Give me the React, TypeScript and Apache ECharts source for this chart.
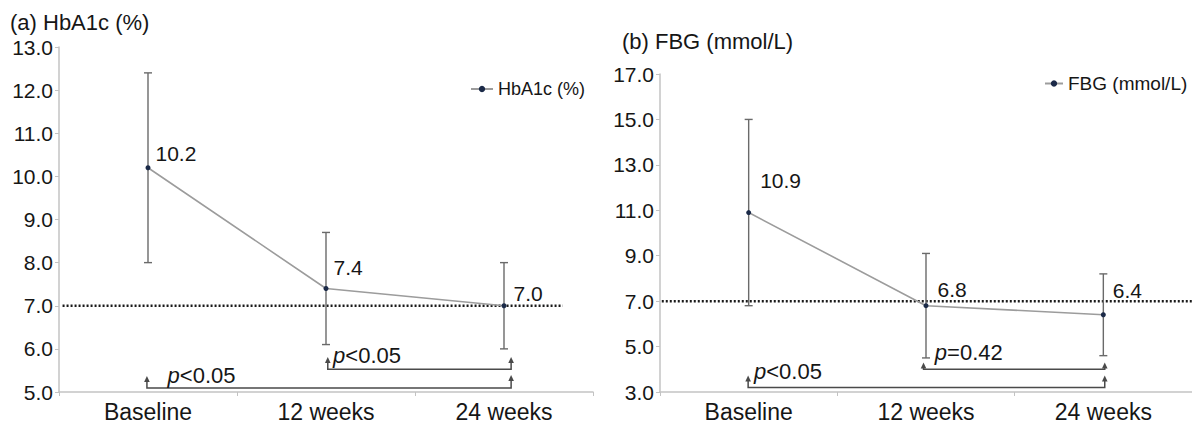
import React, { useEffect, useRef } from "react";
import * as echarts from "echarts";

// ---------- data ----------
const categories = ["Baseline", "12 weeks", "24 weeks"];
const hba1cMean = [10.2, 7.4, 7.0];
const hba1cSD = [2.2, 1.3, 1.0];
const fbgMean = [10.9, 6.8, 6.4];
const fbgSD = [4.1, 2.3, 1.8];
const referenceLevel = 7.0;
const hba1cAxis = { min: 5, max: 13, interval: 1 };
const fbgAxis = { min: 3, max: 17, interval: 2 };
const hba1cComparisons = [
  { from: 1, to: 2, label: "<0.05" },
  { from: 0, to: 2, label: "<0.05" },
];
const fbgComparisons = [
  { from: 1, to: 2, label: "=0.42" },
  { from: 0, to: 2, label: "<0.05" },
];

// ---------- layout / style ----------
const FONT = "'Liberation Sans', Arial, Helvetica, sans-serif";
const TXT = "#161616";
const hba1cLabelShift = [[0, -14], [0, -21], [2, -12]];
const fbgLabelShift = [[4, -32], [4, -16], [2, -24]];
// bracket geometry in data units: [x1, x2, yLine, yTipL, yTipR, labelX, labelY]
const hba1cBracketGeo = [
  [1.51, 2.54, 5.53, 5.79, 5.79, 1.54, 5.84],
  [0.494, 2.54, 5.09, 5.35, 5.37, 0.61, 5.38],
];
const fbgBracketGeo = [
  [1.486, 2.508, 4.0, 4.25, 4.25, 1.55, 4.72],
  [0.497, 2.508, 3.2, 3.68, 3.68, 0.53, 3.9],
];

function errorBarSeries(name: string, means: number[], sds: number[], xi: number, yi: number) {
  return {
    name,
    type: "custom",
    xAxisIndex: xi,
    yAxisIndex: yi,
    z: 2,
    silent: true,
    encode: { x: 0, y: [1, 2] },
    data: means.map((m, i) => [i, +(m - sds[i]).toFixed(2), +(m + sds[i]).toFixed(2)]),
    renderItem: (params: any, api: any) => {
      const x = api.value(0);
      const lo = api.coord([x, api.value(1)]);
      const hi = api.coord([x, api.value(2)]);
      const w = 4;
      const style = { stroke: "#6a6a6a", lineWidth: 1.4 };
      return {
        type: "group",
        children: [
          { type: "line", shape: { x1: lo[0], y1: lo[1], x2: hi[0], y2: hi[1] }, style },
          { type: "line", shape: { x1: lo[0] - w, y1: lo[1], x2: lo[0] + w, y2: lo[1] }, style },
          { type: "line", shape: { x1: hi[0] - w, y1: hi[1], x2: hi[0] + w, y2: hi[1] }, style },
        ],
      };
    },
  };
}

function refLineSeries(x0: number, x1: number, xi: number, yi: number) {
  return {
    type: "custom",
    xAxisIndex: xi,
    yAxisIndex: yi,
    z: 1,
    silent: true,
    data: [[x0, x1, referenceLevel]],
    renderItem: (params: any, api: any) => {
      const a = api.coord([api.value(0), api.value(2)]);
      const b = api.coord([api.value(1), api.value(2)]);
      return {
        type: "line",
        shape: { x1: a[0], y1: a[1], x2: b[0], y2: b[1] },
        style: { stroke: "#1a1a1a", lineWidth: 2.5, lineDash: [2, 2] },
      };
    },
  };
}

function bracketSeries(geo: number[][], comps: { label: string }[], xi: number, yi: number) {
  return {
    type: "custom",
    xAxisIndex: xi,
    yAxisIndex: yi,
    z: 3,
    silent: true,
    data: geo,
    renderItem: (params: any, api: any) => {
      const i = params.dataIndex;
      const x1 = api.value(0), x2 = api.value(1), yl = api.value(2);
      const tl = api.value(3), tr = api.value(4);
      const pL = api.coord([x1, yl]);
      const pR = api.coord([x2, yl]);
      const tL = api.coord([x1, tl]);
      const tR = api.coord([x2, tr]);
      const lab = api.coord([api.value(5), api.value(6)]);
      const stroke = "#4a4a4a";
      const arrow = (p: number[]) => ({
        type: "polygon",
        shape: { points: [[p[0], p[1] - 1], [p[0] - 2.8, p[1] + 5], [p[0] + 2.8, p[1] + 5]] },
        style: { fill: stroke },
      });
      return {
        type: "group",
        children: [
          {
            type: "polyline",
            shape: { points: [[tL[0], tL[1] + 4], pL, pR, [tR[0], tR[1] + 4]] },
            style: { stroke, lineWidth: 1.5, fill: null },
          },
          arrow(tL),
          arrow(tR),
          {
            type: "text",
            x: lab[0],
            y: lab[1],
            style: {
              text: "{i|p}" + comps[i].label,
              rich: { i: { fontStyle: "italic", fontSize: 22, fontFamily: FONT, fill: TXT } },
              fontSize: 22,
              fontFamily: FONT,
              fill: TXT,
              verticalAlign: "middle",
              align: "left",
            },
          },
        ],
      };
    },
  };
}

function meanSeries(name: string, means: number[], shifts: number[][], xi: number, yi: number) {
  return {
    name,
    type: "line",
    xAxisIndex: xi,
    yAxisIndex: yi,
    z: 4,
    symbol: "circle",
    symbolSize: 5,
    itemStyle: { color: "#1b2a48" },
    lineStyle: { color: "#9c9c9c", width: 1.6 },
    data: means.map((v, i) => ({
      value: v,
      label: { offset: shifts[i] },
    })),
    label: {
      show: true,
      position: "right",
      distance: 5,
      fontSize: 21,
      fontFamily: FONT,
      color: TXT,
      formatter: (p: any) => Number(p.value).toFixed(1),
    },
  };
}

function catAxis(gi: number) {
  return {
    type: "category",
    gridIndex: gi,
    data: categories,
    boundaryGap: true,
    axisLine: { lineStyle: { color: "#c3c3c3", width: 1.5 } },
    axisTick: { show: true, length: 4, lineStyle: { color: "#c3c3c3" } },
    axisLabel: { fontSize: 23, fontFamily: FONT, color: TXT, margin: 8 },
  };
}

function hiddenValX(gi: number) {
  return { type: "value", gridIndex: gi, min: 0, max: 3, show: false };
}

function valAxis(gi: number, ax: { min: number; max: number; interval: number }) {
  return {
    type: "value",
    gridIndex: gi,
    min: ax.min,
    max: ax.max,
    interval: ax.interval,
    splitLine: { show: false },
    axisLine: { show: true, lineStyle: { color: "#c3c3c3", width: 1.5 } },
    axisTick: { show: true, length: 4, lineStyle: { color: "#c3c3c3" } },
    axisLabel: {
      fontSize: 21,
      fontFamily: FONT,
      color: TXT,
      margin: 6,
      formatter: (v: number) => v.toFixed(1),
    },
  };
}

export default function App() {
  const ref = useRef<HTMLDivElement>(null);
  useEffect(() => {
    document.body.style.margin = "0";
    if (!ref.current) return;
    const chart = echarts.init(ref.current, undefined, { renderer: "svg" });
    chart.setOption({
      animation: false,
      backgroundColor: "#ffffff",
      title: [
        {
          text: "(a) HbA1c (%)",
          left: 10,
          top: 11,
          padding: 0,
          textStyle: { fontSize: 22, fontWeight: "normal", fontFamily: FONT, color: TXT },
        },
        {
          text: "(b) FBG (mmol/L)",
          left: 622,
          top: 30,
          padding: 0,
          textStyle: { fontSize: 22, fontWeight: "normal", fontFamily: FONT, color: TXT },
        },
      ],
      legend: [
        {
          data: ["HbA1c (%)"],
          left: 470,
          top: 80,
          padding: 0,
          itemWidth: 22,
          itemHeight: 8,
          itemGap: 6,
          textStyle: { fontSize: 18, fontFamily: FONT, color: TXT },
        },
        {
          data: ["FBG (mmol/L)"],
          left: 1044,
          top: 74,
          padding: 0,
          itemWidth: 18,
          itemHeight: 8,
          itemGap: 4,
          textStyle: { fontSize: 19, fontFamily: FONT, color: TXT },
        },
      ],
      grid: [
        { left: 59, top: 47, width: 534, height: 345 },
        { left: 660, top: 74, width: 544, height: 319 },
      ],
      xAxis: [catAxis(0), hiddenValX(0), catAxis(1), hiddenValX(1)],
      yAxis: [valAxis(0, hba1cAxis), valAxis(1, fbgAxis)],
      series: [
        refLineSeries(0.02, 2.83, 1, 0),
        errorBarSeries("HbA1c SD", hba1cMean, hba1cSD, 0, 0),
        meanSeries("HbA1c (%)", hba1cMean, hba1cLabelShift, 0, 0),
        bracketSeries(hba1cBracketGeo, hba1cComparisons, 1, 0),
        refLineSeries(0.01, 3, 3, 1),
        errorBarSeries("FBG SD", fbgMean, fbgSD, 2, 1),
        meanSeries("FBG (mmol/L)", fbgMean, fbgLabelShift, 2, 1),
        bracketSeries(fbgBracketGeo, fbgComparisons, 3, 1),
      ],
    });
    return () => chart.dispose();
  }, []);
  return <div ref={ref} style={{ width: 1192, height: 423 }} />;
}
